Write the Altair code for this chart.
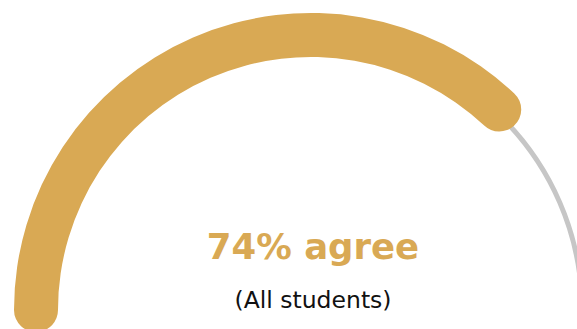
import math
import altair as alt
import pandas as pd

# Data
segments = ["agree", "rest"]
seg_start = [0, 74]
seg_end = [74, 100]
headline = ["74% agree"]
subtitle = ["(All students)"]

GOLD = "#D9A954"
GREY = "#C6C6C6"

arcs = pd.DataFrame({"segment": segments, "start": seg_start, "end": seg_end})
theta_scale = alt.Scale(domain=[0, 100], range=[-math.pi / 2, math.pi / 2])

CX, CY = 311, 310
cap = 22 / 275.0

grey = alt.Chart(arcs).transform_filter(alt.datum.segment == "rest").mark_arc(
    radius=273.5, radius2=268.5, cornerRadius=2, color=GREY
).encode(
    theta=alt.Theta("start:Q", scale=theta_scale, stack=None),
    theta2="end:Q",
    x=alt.value(CX), y=alt.value(CY),
)

gold = alt.Chart(arcs).transform_filter(alt.datum.segment == "agree").mark_arc(
    radius=297, radius2=253, cornerRadius=22, color=GOLD,
    thetaOffset=-cap, theta2Offset=cap,
).encode(
    theta=alt.Theta("start:Q", scale=theta_scale, stack=None),
    theta2="end:Q",
    x=alt.value(CX), y=alt.value(CY),
)

t1 = alt.Chart(pd.DataFrame({"t": headline})).mark_text(
    font="DejaVu Sans", fontSize=35.5, fontWeight="bold", color=GOLD, align="center", baseline="alphabetic"
).encode(text="t:N", x=alt.value(313), y=alt.value(259))

t2 = alt.Chart(pd.DataFrame({"t": subtitle})).mark_text(
    font="DejaVu Sans", fontSize=23.5, fontWeight="normal", color="#111111", align="center", baseline="alphabetic"
).encode(text="t:N", x=alt.value(313), y=alt.value(308))

chart = alt.layer(grey, gold, t1, t2).properties(
    width=577, height=329, autosize=alt.AutoSizeParams(type="none"), padding=0
).configure_view(stroke=None)

chart.save("out.html", embed_options={"renderer": "svg", "actions": False})
